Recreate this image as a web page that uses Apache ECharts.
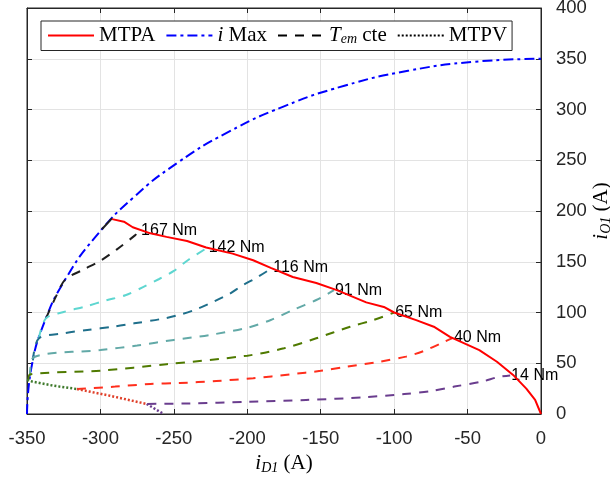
<!DOCTYPE html>
<html>
<head>
<meta charset="utf-8">
<script src="https://cdn.jsdelivr.net/npm/echarts@6/dist/echarts.min.js"></script>
<style>
html,body{margin:0;padding:0;background:#fff}
#main{width:610px;height:478px}
</style>
</head>
<body>
<div id="main"></div>
<script>
// limites de los ejes
var xLim = [-350, 0], xStep = 50;
var yLim = [0, 400], yStep = 50;

// MTPA
var mtpa = [[-292,192],[-284,189.5],[-278,184],[-266,178],[-255,174.5],[-241,170.5],[-228,164],[-210,158],
    [-196,151.5],[-184,144],[-169,135],[-153,129],[-139,122],[-119,110],[-107,105.5],[-100,100],[-85,92.5],
    [-73,86],[-62,76],[-42,63],[-30,51.5],[-19,38.5],[-10,25],[-4,14],[0,0]];

// circulo de corriente maxima
var iMax = [[-350,0],[-347,45.7],[-338.1,90.6],[-323.4,133.9],[-303.1,175],[-277.7,213.1],[-247.5,247.5],
    [-213.1,277.7],[-175,303.1],[-133.9,323.4],[-90.6,338.1],[-45.7,347],[0,350]];

// curvas de par constante
var tq167 = [[-337,94.5],[-330,116.6],[-324,132.4],[-312,142],[-300,151],[-289,162],[-276.5,176],[-273,181]];
var tq167b = [[-299,182],[-292,193]];
var tq142 = [[-342,74.4],[-337,94.5],[-325,100.5],[-310,106],[-296,112],[-283,117],[-271,125],[-260,133],
    [-250,141],[-240,152],[-227,164]];
var tq116 = [[-346,52.8],[-342,74.4],[-325,79.5],[-309,82.8],[-291,86],[-277,89.3],[-259,93.5],[-248,97],
    [-235,103],[-223,110.6],[-212,118.5],[-203,127],[-194,134],[-183,144]];
var tq91 = [[-348,37.4],[-345.5,55.9],[-300,63],[-275,67.5],[-250,73],[-225,78],[-200,85],[-184,92.6],
    [-169,102.5],[-153,112.3],[-141,122]];
var tq65 = [[-349,33],[-348,39],[-300,42.7],[-255,49],[-200,57.5],[-175,64.7],[-153,74.6],[-130,86],
    [-114,92.6],[-100,100]];
var tq40 = [[-316,24.6],[-290,27],[-266,29.6],[-246,30.5],[-221,32.5],[-196,35.2],[-171,39],[-150,42.5],
    [-132,46.6],[-110,51.5],[-92,56.5],[-80,62],[-66,71],[-60,75]];
var tq14 = [[-268,9.9],[-240,10.4],[-200,12],[-160,13.8],[-120,16.5],[-93,19.7],[-75,22.5],[-59,27],
    [-40,32],[-29,36.5],[-21,38]];
var tqNames = ['167 Nm','142 Nm','116 Nm','91 Nm','65 Nm','40 Nm','14 Nm'];

// MTPV (tramos)
var mtpvA = [[-350,33.5],[-346,31.8],[-332,27.9],[-316,24.6]];
var mtpvB = [[-316,24.6],[-293.5,18],[-268.5,9.9]];
var mtpvC = [[-268.5,9.9],[-257,0]];

var tqColors = ['#1e1e1e','#5ed6d0','#1f6f8b','#62a9a7','#4f7a00','#ff2e1c','#6a3d8e'];
var axisColor = '#262626';
var dash = [9,8];
var dot = [2,2];

var chart = echarts.init(document.getElementById('main'));

function torque(name, data, color, label) {
    return {
        name: name, type: 'line', data: data, symbol: 'none', smooth: 0.3,
        lineStyle: {color: color, width: 2, type: dash},
        itemStyle: {color: color},
        endLabel: label ? {show: true, formatter: label, distance: 1,
            fontFamily: 'Liberation Sans', fontSize: 16, color: '#000'} : {show: false},
        z: 3
    };
}
function dotted(name, data, color) {
    return {
        name: name, type: 'line', data: data, symbol: 'none',
        lineStyle: {color: color, width: 2.5, type: dot},
        itemStyle: {color: color}, z: 4
    };
}

var series = [
    {name: 'iMax', type: 'line', data: iMax, symbol: 'none', smooth: true,
        lineStyle: {color: '#0000ff', width: 2, type: [10,4,3,4]}, itemStyle: {color: '#0000ff'}, z: 2},
    torque('Tem', tq167, tqColors[0], tqNames[0]),
    {name: 't167b', type: 'line', data: tq167b, symbol: 'none',
        lineStyle: {color: tqColors[0], width: 2}, z: 3},
    torque('t142', tq142, tqColors[1], tqNames[1]),
    torque('t116', tq116, tqColors[2], tqNames[2]),
    torque('t91', tq91, tqColors[3], tqNames[3]),
    torque('t65', tq65, tqColors[4], tqNames[4]),
    torque('t40', tq40, tqColors[5], tqNames[5]),
    torque('t14', tq14, tqColors[6], tqNames[6]),
    {name: 'MTPA', type: 'line', data: mtpa, symbol: 'none',
        lineStyle: {color: '#ff0000', width: 2}, itemStyle: {color: '#ff0000'}, z: 5},
    dotted('MTPV', mtpvA, '#3f7a2c'),
    dotted('mtpvB', mtpvB, '#e0402a'),
    dotted('mtpvC', mtpvC, '#6a3d8e')
];

var nameRich = {
    it: {fontFamily: 'Liberation Serif', fontStyle: 'italic', fontSize: 21, color: '#000'},
    sub: {fontFamily: 'Liberation Serif', fontStyle: 'italic', fontSize: 14, color: '#000', padding: [9,0,0,0]},
    rm: {fontFamily: 'Liberation Serif', fontSize: 21, color: '#000'}
};
var tickLabel = {fontFamily: 'Liberation Sans', fontSize: 18.5, color: axisColor};

option = {
    backgroundColor: '#fff',
    animation: false,
    grid: {left: 27, right: 69, top: 8, bottom: 64, show: true, borderColor: axisColor, borderWidth: 1,
        containLabel: false, outerBoundsMode: 'none'},
    legend: {
        data: [
            {name: 'MTPA'},
            {name: 'iMax'},
            {name: 'Tem', lineStyle: {color: '#000'}},
            {name: 'MTPV', lineStyle: {color: '#000', type: dot}}
        ],
        left: 41, top: 21, padding: [4,5,4,6],
        itemWidth: 46, itemHeight: 14, itemGap: 10,
        itemStyle: {opacity: 0},
        borderColor: axisColor, borderWidth: 1, backgroundColor: '#fff',
        formatter: function (n) {
            if (n == 'iMax') return '{it|i}{rm| Max}';
            if (n == 'Tem') return '{it|T}{sub|em}{rm| cte}';
            return '{rm|' + n + '}';
        },
        textStyle: {fontFamily: 'Liberation Serif', fontSize: 21, color: '#000',
            rich: {
                it: {fontFamily: 'Liberation Serif', fontStyle: 'italic', fontSize: 21, color: '#000'},
                sub: {fontFamily: 'Liberation Serif', fontStyle: 'italic', fontSize: 14, color: '#000', padding: [8,0,0,0]},
                rm: {fontFamily: 'Liberation Serif', fontSize: 21, color: '#000'}
            }}
    },
    xAxis: [{
        type: 'value', position: 'bottom', min: xLim[0], max: xLim[1], interval: xStep,
        axisLine: {show: true, onZero: false, lineStyle: {color: axisColor}},
        axisTick: {show: true, inside: true, length: 5, lineStyle: {color: axisColor}},
        axisLabel: Object.assign({margin: 15}, tickLabel),
        splitLine: {show: true, lineStyle: {color: '#e3e3e3'}},
        name: '{it|i}{sub|D1}{rm| (A)}', nameLocation: 'middle', nameGap: 38, nameMoveOverlap: false,
        nameTextStyle: {rich: nameRich}
    }, {
        type: 'value', position: 'top', min: xLim[0], max: xLim[1], interval: xStep,
        axisLine: {show: true, onZero: false, lineStyle: {color: axisColor}},
        axisTick: {show: true, inside: true, length: 5, lineStyle: {color: axisColor}},
        axisLabel: {show: false}, splitLine: {show: false}
    }],
    yAxis: [{
        type: 'value', position: 'right', min: yLim[0], max: yLim[1], interval: yStep,
        axisLine: {show: true, onZero: false, lineStyle: {color: axisColor}},
        axisTick: {show: true, inside: true, length: 5, lineStyle: {color: axisColor}},
        axisLabel: Object.assign({margin: 15}, tickLabel),
        splitLine: {show: true, lineStyle: {color: '#e3e3e3'}},
        name: '{it|i}{sub|Q1}{rm| (A)}', nameLocation: 'middle', nameGap: 49, nameRotate: 90,
        nameMoveOverlap: false,
        nameTextStyle: {rich: nameRich}
    }, {
        type: 'value', position: 'left', min: yLim[0], max: yLim[1], interval: yStep,
        axisLine: {show: true, onZero: false, lineStyle: {color: axisColor}},
        axisTick: {show: true, inside: true, length: 5, lineStyle: {color: axisColor}},
        axisLabel: {show: false}, splitLine: {show: false}
    }],
    series: series
};
chart.setOption(option);
</script>
</body>
</html>
